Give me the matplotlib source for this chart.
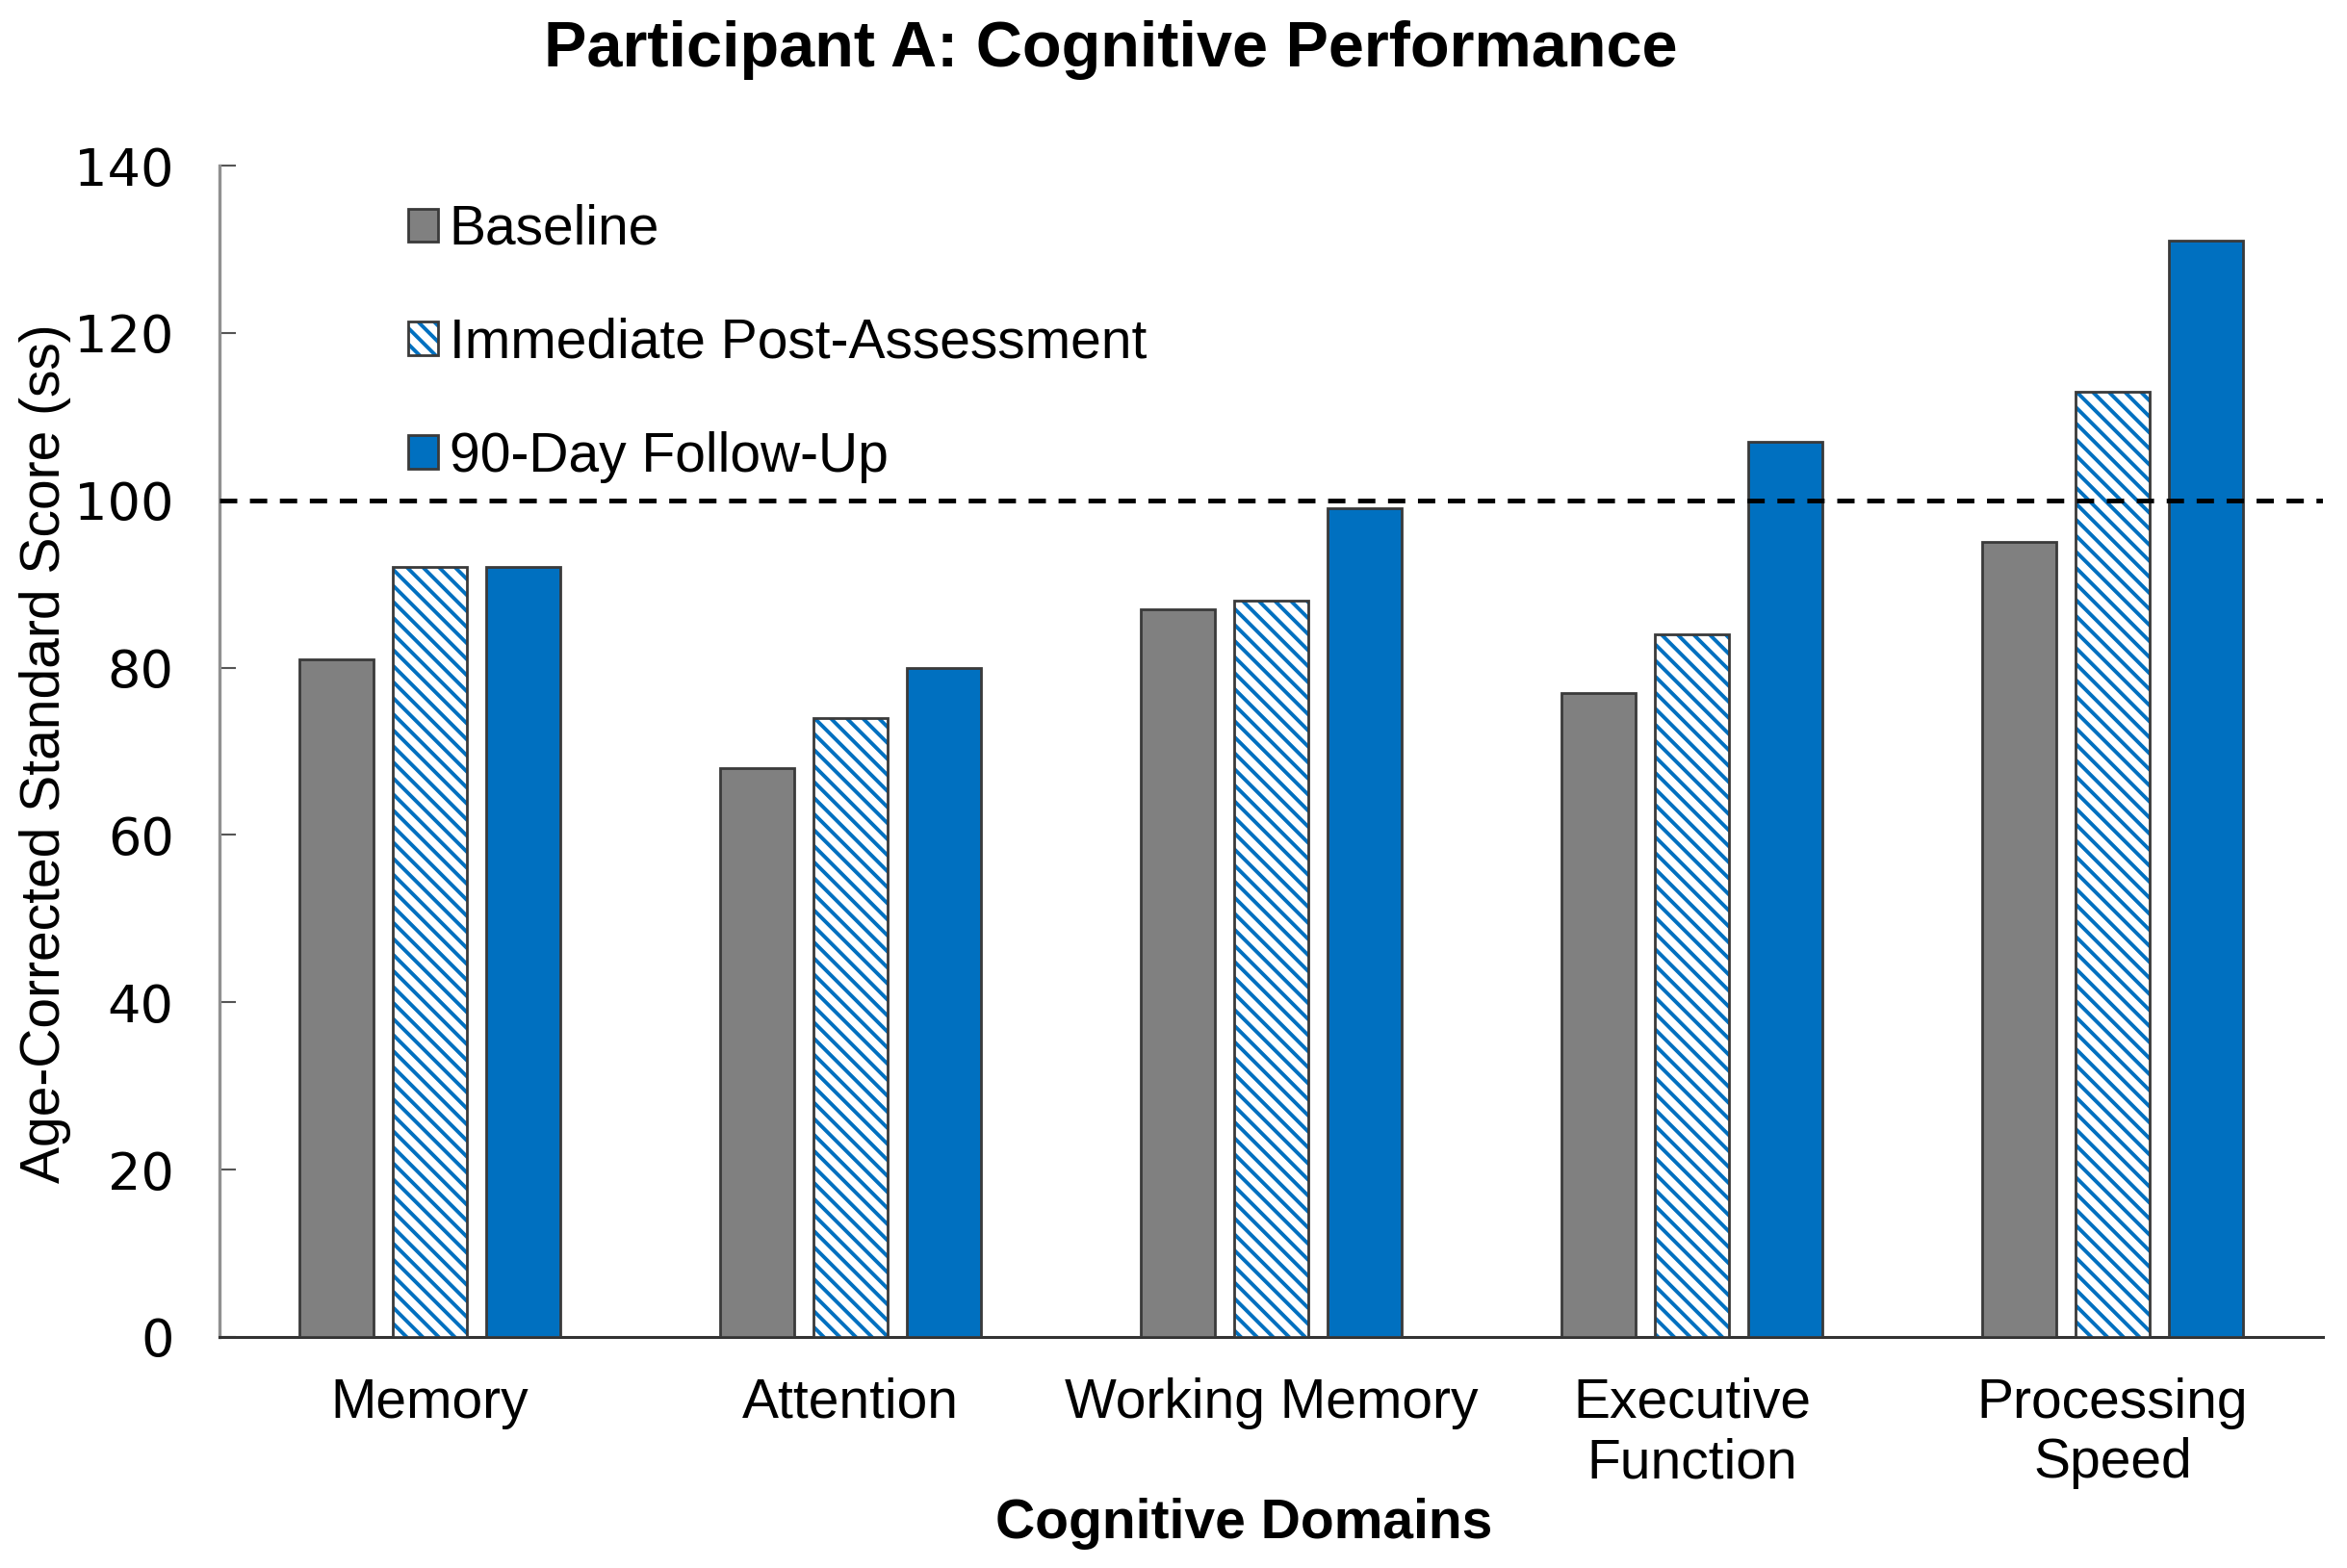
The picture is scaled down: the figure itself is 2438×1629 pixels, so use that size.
import matplotlib
matplotlib.use("Agg")
import matplotlib.pyplot as plt
import numpy as np

categories = ["Memory", "Attention", "Working Memory", "Executive\nFunction", "Processing\nSpeed"]
baseline = [81, 68, 87, 77, 95]
immediate = [92, 74, 88, 84, 113]
followup = [92, 80, 99, 107, 131]
series_labels = ["Baseline", "Immediate Post-Assessment", "90-Day Follow-Up"]
yticks = [0, 20, 40, 60, 80, 100, 120, 140]
reference_line = 100

GRAY = "#808080"
BLUE = "#0070C0"
EDGE = "#3a3a3a"

plt.rcParams["font.family"] = ["Liberation Sans", "DejaVu Sans"]
plt.rcParams["hatch.linewidth"] = 2.8

fig = plt.figure(figsize=(24.38, 16.29), dpi=100)
ax = fig.add_axes([228/2438, 1 - 1389/1629, (2413-228)/2438, (1389-172)/1629])

x = np.arange(len(categories))
w = 0.176
step = 0.222

b1 = ax.bar(x - step, baseline, w, color=GRAY, edgecolor=EDGE, linewidth=2, zorder=3)
b2h = ax.bar(x, immediate, w, color="white", edgecolor=BLUE, hatch="\\\\", linewidth=0, zorder=3)
b2o = ax.bar(x, immediate, w, fill=False, edgecolor=EDGE, linewidth=2, zorder=4)
b3 = ax.bar(x + step, followup, w, color=BLUE, edgecolor=EDGE, linewidth=2, zorder=3)

ax.axhline(reference_line, color="black", lw=3.5, ls=(0, (3.7, 2.7)), zorder=5)

ax.set_xlim(-0.5, len(categories) - 0.5)
ax.set_ylim(0, 140)
ax.set_yticks(yticks)
ax.set_yticklabels([str(t) for t in yticks], fontfamily="DejaVu Sans", fontsize=39)
ax.set_xticks(x)
ax.set_xticklabels(categories, fontsize=41, linespacing=1.2)
ax.tick_params(axis="x", length=0, pad=30)
ax.tick_params(axis="y", direction="in", length=12, width=1.5, color="#555555", pad=34)

for s in ["top", "right"]:
    ax.spines[s].set_visible(False)
ax.spines["left"].set_color("#909090")
ax.spines["left"].set_linewidth(2.4)
ax.spines["bottom"].set_color("#333333")
ax.spines["bottom"].set_linewidth(2.2)

fig.text(47/2438, 1 - 783/1629, "Age-Corrected Standard Score (ss)", fontsize=41,
         rotation=90, ha="center", va="center")

fig.text(1154/2438, 1 - 52/1629, "Participant A: Cognitive Performance",
         fontsize=48, fontweight="bold", ha="center", va="center")
fig.text(1292/2438, 1 - 1583/1629, "Cognitive Domains",
         fontsize=41, fontweight="bold", ha="center", va="center")

leg = fig.legend([b1[0], (b2h[0], b2o[0]), b3[0]], series_labels,
                 loc="upper left", bbox_to_anchor=(424/2438, 1 - 212/1629),
                 frameon=False, fontsize=41, handlelength=0.55, handleheight=0.55,
                 handletextpad=0.2, labelspacing=1.12, borderpad=0, borderaxespad=0)

fig.savefig("out.png", dpi=100, facecolor="white")
